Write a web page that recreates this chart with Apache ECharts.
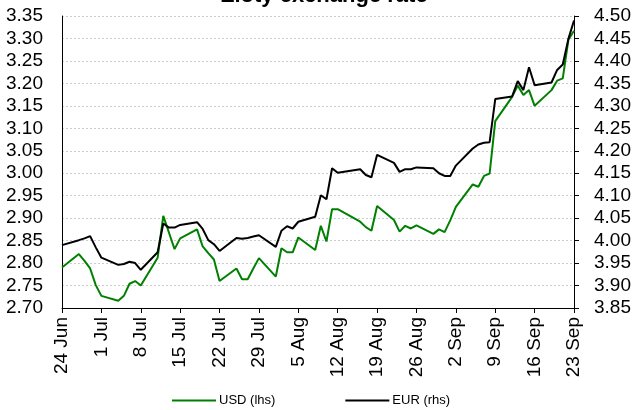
<!DOCTYPE html>
<html>
<head>
<meta charset="utf-8">
<script src="https://cdn.jsdelivr.net/npm/echarts@6/dist/echarts.min.js"></script>
<style>
  html, body { margin: 0; padding: 0; background: #fff; }
  #main { width: 634px; height: 410px; }
</style>
</head>
<body>
<div id="main"></div>
<script>
// observation dates (2011), business days only (15 Aug holiday missing)
var obsDates = [
  "06-24", "06-27", "06-28", "06-29", "06-30", "07-01", "07-04", "07-05", "07-06", "07-07",
  "07-08", "07-11", "07-12", "07-13", "07-14", "07-15", "07-18", "07-19", "07-20", "07-21",
  "07-22", "07-25", "07-26", "07-27", "07-28", "07-29", "08-01", "08-02", "08-03", "08-04",
  "08-05", "08-08", "08-09", "08-10", "08-11", "08-12", "08-16", "08-17", "08-18", "08-19",
  "08-22", "08-23", "08-24", "08-25", "08-26", "08-29", "08-30", "08-31", "09-01", "09-02",
  "09-05", "09-06", "09-07", "09-08", "09-09", "09-12", "09-13", "09-14", "09-15", "09-16",
  "09-19", "09-20", "09-21", "09-22", "09-23"
];
var usd = [
  2.790, 2.820, 2.805, 2.788, 2.751, 2.727, 2.716, 2.727, 2.754, 2.760,
  2.750, 2.812, 2.905, 2.868, 2.831, 2.855, 2.875, 2.837, 2.822, 2.808,
  2.760, 2.788, 2.764, 2.764, 2.788, 2.811, 2.770, 2.833, 2.824, 2.824,
  2.857, 2.829, 2.883, 2.848, 2.920, 2.920, 2.892, 2.880, 2.872, 2.927,
  2.896, 2.870, 2.883, 2.877, 2.884, 2.865, 2.875, 2.869, 2.895, 2.925,
  2.975, 2.970, 2.994, 2.999, 3.116, 3.170, 3.195, 3.174, 3.185, 3.150,
  3.185, 3.206, 3.211, 3.297, 3.317
];
var eur = [
  3.990, 4.001, 4.005, 4.010, 3.985, 3.962, 3.946, 3.948, 3.953, 3.950,
  3.935, 3.974, 4.038, 4.029, 4.029, 4.035, 4.041, 4.026, 4.001, 3.992,
  3.977, 4.006, 4.004, 4.006, 4.009, 4.012, 3.986, 4.022, 4.032, 4.027,
  4.042, 4.053, 4.101, 4.092, 4.161, 4.151, 4.159, 4.146, 4.141, 4.191,
  4.173, 4.153, 4.159, 4.159, 4.163, 4.161, 4.150, 4.144, 4.144, 4.167,
  4.205, 4.214, 4.218, 4.219, 4.315, 4.321, 4.355, 4.335, 4.386, 4.346,
  4.352, 4.380, 4.392, 4.449, 4.490
];
var tickLabels = ["24 Jun", "1 Jul", "8 Jul", "15 Jul", "22 Jul", "29 Jul", "5 Aug",
  "12 Aug", "19 Aug", "26 Aug", "2 Sep", "9 Sep", "16 Sep", "23 Sep"];

// day offset from 24 Jun
function dayOf(md) {
  var p = md.split("-");
  return Math.round((Date.UTC(2011, +p[0] - 1, +p[1]) - Date.UTC(2011, 5, 24)) / 86400000);
}
var usdData = obsDates.map(function (d, i) { return [dayOf(d), usd[i]]; });
var eurData = obsDates.map(function (d, i) { return [dayOf(d), eur[i]]; });

var font = "'Liberation Sans', Arial, sans-serif";

var myChart = echarts.init(document.getElementById("main"));
var option = {
  animation: false,
  title: {
    text: "Zloty exchange rate",
    left: 216,
    top: -20,
    textStyle: { fontFamily: font, fontWeight: "bold", fontSize: 22, color: "#000" }
  },
  grid: { left: 62, right: 57, top: 16, bottom: 102 },
  legend: {
    left: 167,
    top: 389,
    itemGap: 70,
    itemWidth: 44,
    itemHeight: 2,
    icon: "rect",
    textStyle: { fontFamily: font, fontSize: 13, color: "#000", padding: [0, 0, 0, -2] },
    data: ["USD (lhs)", "EUR (rhs)"]
  },
  xAxis: {
    type: "value",
    min: 0,
    max: 91,
    interval: 7,
    axisLine: { lineStyle: { color: "#000", width: 1 } },
    axisTick: { show: true, length: 5, inside: false, lineStyle: { color: "#000" } },
    splitLine: { show: false },
    axisLabel: {
      rotate: 90,
      margin: 9,
      fontFamily: font,
      fontSize: 19,
      color: "#000",
      formatter: function (v) { return tickLabels[Math.round(v / 7)]; }
    }
  },
  yAxis: [
    {
      type: "value",
      min: 2.70,
      max: 3.35,
      interval: 0.05,
      axisLine: { show: true, lineStyle: { color: "#000" } },
      axisTick: { show: false },
      splitLine: { show: true, lineStyle: { color: "#cccccc", type: [2, 2], width: 1 } },
      axisLabel: {
        margin: 19,
        fontFamily: font,
        fontSize: 19,
        color: "#000",
        formatter: function (v) { return v.toFixed(2); }
      }
    },
    {
      type: "value",
      min: 3.85,
      max: 4.50,
      interval: 0.05,
      position: "right",
      axisLine: { show: true, lineStyle: { color: "#000" } },
      axisTick: { show: true, length: 5, lineStyle: { color: "#000" } },
      splitLine: { show: false },
      axisLabel: {
        margin: 20,
        fontFamily: font,
        fontSize: 19,
        color: "#000",
        formatter: function (v) { return v.toFixed(2); }
      }
    }
  ],
  series: [
    {
      name: "USD (lhs)",
      type: "line",
      yAxisIndex: 0,
      showSymbol: false,
      symbol: "none",
      lineStyle: { color: "#008000", width: 2 },
      itemStyle: { color: "#008000" },
      data: usdData
    },
    {
      name: "EUR (rhs)",
      type: "line",
      yAxisIndex: 1,
      showSymbol: false,
      symbol: "none",
      lineStyle: { color: "#000", width: 2 },
      itemStyle: { color: "#000" },
      data: eurData
    }
  ]
};
option && myChart.setOption(option);
</script>
</body>
</html>
